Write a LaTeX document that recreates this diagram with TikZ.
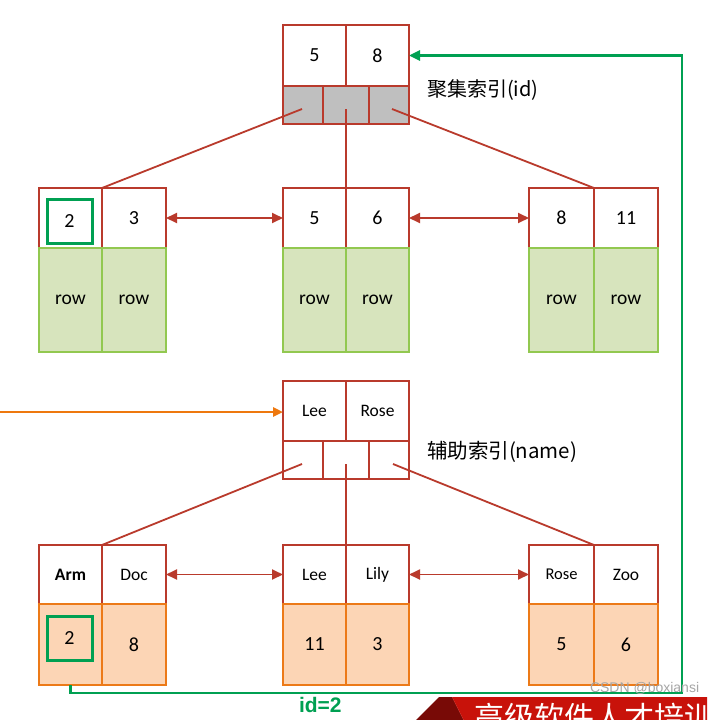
\documentclass[tikz,border=0pt]{standalone}
\usepackage{fontspec}
\setmainfont{Carlito}
\newfontfamily\cjk{Noto Sans CJK SC}
\newfontfamily\arialf{Liberation Sans}
\usetikzlibrary{arrows.meta,calc}
\definecolor{bred}{RGB}{185,58,44}
\definecolor{gfill}{RGB}{215,228,189}
\definecolor{gline}{RGB}{146,200,80}
\definecolor{ofill}{RGB}{252,213,181}
\definecolor{oline}{RGB}{236,122,24}
\definecolor{pgrey}{RGB}{191,191,191}
\definecolor{darrow}{RGB}{0,160,82}
\definecolor{oarrow}{RGB}{238,120,14}
\definecolor{banred}{RGB}{200,18,10}
\definecolor{bandark}{RGB}{120,10,6}
\tikzset{
  every node/.style={inner sep=0pt, outer sep=0pt, anchor=north west},
  cell/.style 2 args={minimum width=#1pt, minimum height=#2pt},
  keyc/.style={draw=bred, line width=2.3pt, fill=white, font=\fontsize{20}{24}\selectfont},
  namec/.style={keyc, font=\fontsize{17.5}{21}\selectfont},
  ptrc/.style={draw=bred, line width=2.3pt, fill=white},
  gptrc/.style={ptrc, fill=pgrey},
  rowc/.style={draw=gline, line width=2.3pt, fill=gfill, font=\fontsize{19.5}{23}\selectfont},
  idc/.style={draw=oline, line width=2.3pt, fill=ofill, font=\fontsize{20}{24}\selectfont},
  hilite/.style={draw=darrow, line width=3pt, minimum width=45pt, minimum height=44pt},
  conn/.style={draw=bred, line width=1.8pt},
  dbl/.style={draw=bred, line width=1.8pt, {Triangle[length=11pt,width=10pt]}-{Triangle[length=11pt,width=10pt]}},
  lbl/.style={anchor=west, font=\cjk\fontsize{20}{24}\selectfont},
}
\begin{document}
\begin{tikzpicture}[x=1pt,y=-1pt]
\useasboundingbox (0,0) rectangle (707,720);
\clip (0,0) rectangle (707,720);
\fill[white] (0,0) rectangle (707,720);

% ---------- clustered index root ----------
\node[keyc, cell={63}{61}] (r1) at (283,25) {5};
\node[keyc, cell={63}{61}] (r2) at (346,25) {8};
\node[gptrc, cell={40}{38}] (rp1) at (283,86) {};
\node[gptrc, cell={46}{38}] (rp2) at (323,86) {};
\node[gptrc, cell={40}{38}] (rp3) at (369,86) {};
\node[lbl] (rl) at (427,90) {聚集索引(id)};

% ---------- clustered leaves ----------
\node[keyc, cell={63}{60}] (a1) at (39,188) {};
\node[keyc, cell={64}{60}] (a2) at (102,188) {3};
\node[keyc, cell={63}{60}] (b1) at (283,188) {5};
\node[keyc, cell={63}{60}] (b2) at (346,188) {6};
\node[keyc, cell={65}{60}] (c1) at (529,188) {8};
\node[keyc, cell={64}{60}] (c2) at (594,188) {11};
\node[keyc, hilite] (a1h) at (47,199) {2};

\node[rowc, cell={63}{104}] (a1d) at (39,248) {\raisebox{-3pt}{row}};
\node[rowc, cell={64}{104}] (a2d) at (102,248) {\raisebox{-3pt}{row}};
\node[rowc, cell={63}{104}] (b1d) at (283,248) {\raisebox{-3pt}{row}};
\node[rowc, cell={63}{104}] (b2d) at (346,248) {\raisebox{-3pt}{row}};
\node[rowc, cell={65}{104}] (c1d) at (529,248) {\raisebox{-3pt}{row}};
\node[rowc, cell={64}{104}] (c2d) at (594,248) {\raisebox{-3pt}{row}};

\coordinate (s1) at (302,109);
\coordinate (s2) at (346,109);
\coordinate (s3) at (392,109);
\draw[conn] (s1) -- (a2.north west);
\draw[conn] (s2) -- (b1.north east);
\draw[conn] (s3) -- (c2.north west);
\draw[dbl] (a2.east) -- (b1.west);
\draw[dbl] (b2.east) -- (c1.west);

% ---------- secondary index root ----------
\node[namec, cell={63}{60}] (n1) at (283,381) {Lee};
\node[namec, cell={63}{60}] (n2) at (346,381) {Rose};
\node[ptrc, cell={40}{38}] (np1) at (283,441) {};
\node[ptrc, cell={46}{38}] (np2) at (323,441) {};
\node[ptrc, cell={40}{38}] (np3) at (369,441) {};
\node[lbl, font=\cjk\fontsize{20.5}{24}\selectfont] (nl) at (427,452) {辅助索引(name)};

% ---------- secondary leaves ----------
\node[namec, cell={63}{59}, font=\bfseries\fontsize{17.5}{21}\selectfont] (d1) at (39,545) {Arm};
\node[namec, cell={64}{59}] (d2) at (102,545) {Doc};
\node[namec, cell={63}{59}] (e1) at (283,545) {Lee};
\node[namec, cell={63}{59}] (e2) at (346,545) {Lily};
\node[namec, cell={65}{59}, font=\fontsize{16.5}{20}\selectfont] (f1) at (529,545) {Rose};
\node[namec, cell={64}{59}] (f2) at (594,545) {Zoo};

\node[idc, cell={63}{81}] (d1d) at (39,604) {};
\node[idc, cell={64}{81}] (d2d) at (102,604) {8};
\node[idc, cell={63}{81}] (e1d) at (283,604) {11};
\node[idc, cell={63}{81}] (e2d) at (346,604) {3};
\node[idc, cell={65}{81}] (f1d) at (529,604) {5};
\node[idc, cell={64}{81}] (f2d) at (594,604) {6};
\node[idc, hilite] (d1h) at (47,616) {\raisebox{-2pt}{2}};

\coordinate (t1) at (302,464);
\coordinate (t2) at (346,464);
\coordinate (t3) at (393,464);
\draw[conn] (t1) -- (d2.north west);
\draw[conn] (t2) -- (e1.north east);
\draw[conn] (t3) -- (f2.north west);
\draw[dbl] (d2.east) -- (e1.west);
\draw[dbl] (e2.east) -- (f1.west);

% ---------- lookup arrows ----------
\coordinate (o0) at (0,412);
\draw[draw=oarrow, line width=2.7pt, -{Triangle[length=10pt,width=9pt]}] (o0) -- (o0 -| n1.west);
\coordinate (g2) at (682,693);
\draw[draw=darrow, line width=2.6pt, -{Triangle[length=11pt,width=10pt]}] (d1d.south) |- (g2) |- (r2.east);
\node[anchor=west, text=darrow, font=\arialf\bfseries\fontsize{21}{24}\selectfont] (idl) at (299,705) {id=2};

% ---------- watermark banner ----------
\fill[bandark] (415,721) -- (439,697) -- (452,697) -- (464,721) -- cycle;
\fill[banred] (452,697) -- (707,697) -- (707,721) -- (464,721) -- cycle;
\node[anchor=north west, text=white, font=\cjk\fontsize{30}{32}\selectfont] (wm) at (474,703) {高级软件人才培训};
\node[anchor=west, text=black!35, font=\arialf\fontsize{14}{16}\selectfont] (csdn) at (590,688) {CSDN @boxiansi};
\end{tikzpicture}
\end{document}
